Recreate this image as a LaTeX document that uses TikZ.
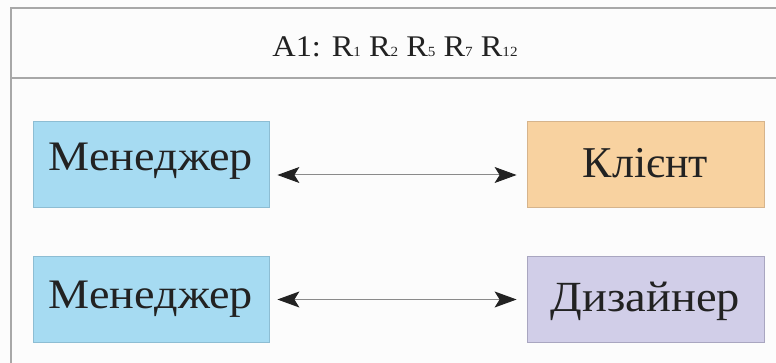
\documentclass[tikz,border=0pt]{standalone}
\usepackage{fontspec}
\setmainfont{Liberation Serif}
\newfontfamily\widefont{Liberation Serif}[FakeStretch=1.08]
\newfontfamily\widerfont{Liberation Serif}[FakeStretch=1.1]
\usetikzlibrary{arrows.meta}
\definecolor{bg}{HTML}{FCFCFC}
\definecolor{frameline}{HTML}{A8A8A8}
\definecolor{bluefill}{HTML}{A6DBF2}
\definecolor{blueline}{HTML}{8DBDD3}
\definecolor{orangefill}{HTML}{F8D2A0}
\definecolor{orangeline}{HTML}{D6B48C}
\definecolor{lilacfill}{HTML}{D1CEE8}
\definecolor{lilacline}{HTML}{A9A6C0}
\definecolor{arrowline}{HTML}{8A8A8A}
\definecolor{ink}{HTML}{222222}
\newcommand\subdig[1]{{\fontsize{14}{14}\selectfont #1}}
\tikzset{
  box/.style={draw, line width=0.8pt, minimum width=236pt, minimum height=86pt, inner sep=0pt},
  boxtext/.style={anchor=base, inner sep=0pt, text=ink},
  link/.style={draw=arrowline, line width=1pt,
    {Stealth[length=22pt, width=16pt, inset=5pt, color=ink]}-{Stealth[length=22pt, width=16pt, inset=5pt, color=ink]}},
  frame/.style={draw=frameline, line width=2pt},
}
\begin{document}
\begin{tikzpicture}[x=1pt, y=-1pt]
\useasboundingbox (0,0) rectangle (776,363);
\fill[bg] (0,0) rectangle (776,363);
% frame
\coordinate (tl) at (11,8);
\coordinate (tr) at (777,8);
\coordinate (bl) at (11,364);
\coordinate (hl) at (11,78);
\coordinate (hr) at (777,78);
\draw[frame] (bl) -- (tl) -- (tr);
\draw[frame] (hl) -- (hr);
\node[anchor=base, inner sep=0pt, text=ink, font=\widefont\fontsize{30}{30}\selectfont] (title) at (395,57)
  {A1: R\subdig{1} R\subdig{2} R\subdig{5} R\subdig{7} R\subdig{12}};
% boxes
\node[box, fill=bluefill, draw=blueline] (m1) at (151,164) {};
\node[box, fill=orangefill, draw=orangeline, minimum width=237pt] (k) at (645.5,164) {};
\node[box, fill=bluefill, draw=blueline] (m2) at (151,299.5) {};
\node[box, fill=lilacfill, draw=lilacline, minimum width=237pt] (d) at (645.5,299.5) {};
% texts
\node[boxtext, font=\widerfont\fontsize{42}{42}\selectfont] (m1t) at ([shift={(0,7)}]m1.center) {Менеджер};
\node[boxtext, font=\fontsize{44}{44}\selectfont] (kt) at ([shift={(0,14)}]k.center) {Клієнт};
\node[boxtext, font=\widerfont\fontsize{42}{42}\selectfont] (m2t) at ([shift={(0,8.5)}]m2.center) {Менеджер};
\node[boxtext, font=\widefont\fontsize{43}{43}\selectfont] (dt) at ([shift={(0,11.5)}]d.center) {Дизайнер};
% connectors
\draw[link] ([shift={(8,11)}]m1.east) -- ([shift={(-10,11)}]k.west);
\draw[link] ([shift={(8,0)}]m2.east) -- ([shift={(-10,0)}]d.west);
\end{tikzpicture}
\end{document}
